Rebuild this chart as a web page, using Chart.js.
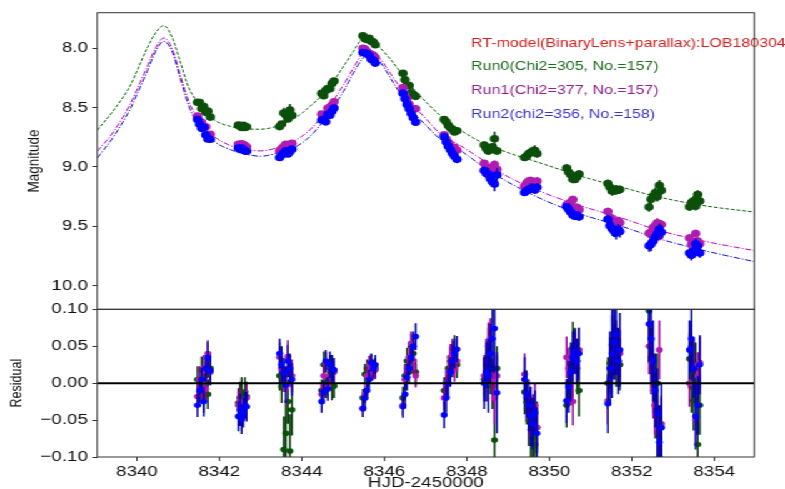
<!DOCTYPE html>
<html>
<head>
<meta charset="utf-8">
<script src="https://cdn.jsdelivr.net/npm/chart.js@4.4.1/dist/chart.umd.min.js"></script>
<style>
  html, body { margin: 0; padding: 0; background: #fff; overflow: hidden; }
  /* the reference picture is stretched sideways, so the whole drawing is too */
  #wrap { position: absolute; left: 0; top: 0; width: 628px; height: 489px; transform: scaleX(1.25); transform-origin: 0 0; }
  #magChart { position: absolute; left: 0; top: 0; }
  #resChart { position: absolute; left: 0; top: 300px; }
</style>
</head>
<body>
<div id="wrap">
  <canvas id="magChart" width="628" height="310" style="width:628px;height:310px"></canvas>
  <canvas id="resChart" width="628" height="189" style="width:628px;height:189px"></canvas>
</div>
<script>
// ---- data ----
const xTicks = [8340, 8342, 8344, 8346, 8348, 8350, 8352, 8354];
const magTicks = [8.0, 8.5, 9.0, 9.5, 10.0];
const resTicks = [0.10, 0.05, 0.00, -0.05, -0.10];

const legendLines = [
  "RT-model(BinaryLens+parallax):LOB180304",
  "Run0(Chi2=305, No.=157)",
  "Run1(Chi2=377, No.=157)",
  "Run2(chi2=356, No.=158)"
];

// model curves
const modelTime = [8339.04, 8339.44, 8339.85, 8340.05, 8340.25, 8340.45, 8340.65, 8340.86, 8341.06, 8341.26,
  8341.46, 8341.87, 8342.27, 8342.67, 8343.00, 8343.39, 8343.80, 8344.20, 8344.61, 8345.01,
  8345.25, 8345.45, 8345.58, 8345.88, 8346.22, 8346.62, 8347.03, 8347.40, 8347.84, 8348.40,
  8348.96, 8349.81, 8350.78, 8351.75, 8352.61, 8353.82, 8354.97];
const model0Mag = [8.69, 8.52, 8.307, 8.152, 7.998, 7.871, 7.809, 7.913, 8.124, 8.335,
  8.447, 8.602, 8.658, 8.68, 8.682, 8.657, 8.596, 8.489, 8.349, 8.152,
  8.025, 7.922, 7.905, 7.99, 8.124, 8.307, 8.46, 8.58, 8.689, 8.80,
  8.875, 8.97, 9.08, 9.17, 9.25, 9.33, 9.38];
const model1Mag = [8.868, 8.70, 8.461, 8.31, 8.152, 8.0, 7.913, 8.006, 8.236, 8.447,
  8.587, 8.742, 8.82, 8.855, 8.865, 8.84, 8.784, 8.686, 8.517, 8.307,
  8.166, 8.054, 8.017, 8.082, 8.25, 8.447, 8.602, 8.735, 8.82, 8.945,
  9.075, 9.21, 9.33, 9.43, 9.53, 9.63, 9.705];
const model2Mag = [8.925, 8.742, 8.503, 8.35, 8.194, 8.03, 7.941, 8.034, 8.264, 8.489,
  8.630, 8.784, 8.855, 8.895, 8.91, 8.885, 8.84, 8.742, 8.573, 8.362,
  8.208, 8.096, 8.054, 8.110, 8.292, 8.503, 8.657, 8.778, 8.86, 9.00,
  9.12, 9.27, 9.40, 9.50, 9.60, 9.71, 9.798];

// observation times, one night per line
const obsTime = [
  8341.47, 8341.52, 8341.57, 8341.62, 8341.67, 8341.72, 8341.78,
  8342.46, 8342.50, 8342.54, 8342.58, 8342.62, 8342.66,
  8343.46, 8343.51, 8343.56, 8343.61, 8343.66, 8343.71, 8343.76,
  8344.48, 8344.53, 8344.58, 8344.63, 8344.68, 8344.73, 8344.78,
  8345.48, 8345.53, 8345.58, 8345.63, 8345.68, 8345.73, 8345.78,
  8346.45, 8346.50, 8346.55, 8346.60, 8346.65, 8346.70, 8346.76,
  8347.45, 8347.50, 8347.55, 8347.60, 8347.65, 8347.70, 8347.76,
  8348.42, 8348.47, 8348.52, 8348.57, 8348.62, 8348.67, 8348.73,
  8349.40, 8349.45, 8349.50, 8349.55, 8349.60, 8349.65, 8349.70,
  8350.42, 8350.47, 8350.52, 8350.57, 8350.62, 8350.67, 8350.72,
  8351.42, 8351.47, 8351.52, 8351.57, 8351.62, 8351.67, 8351.71,
  8352.42, 8352.47, 8352.52, 8352.57, 8352.62, 8352.67, 8352.72,
  8353.40, 8353.45, 8353.50, 8353.55, 8353.60, 8353.65
];

// Run0 (green)
const run0Mag = [
  8.455, 8.458, 8.508, 8.49, 8.54, 8.53, 8.58,
  8.648, 8.657, 8.668, 8.65, 8.668, 8.662,
  8.66, 8.638, 8.546, 8.56, 8.595, 8.52, 8.564,
  8.38, 8.40, 8.355, 8.34, 8.34, 8.297, 8.276,
  7.895, 7.919, 7.925, 7.915, 7.94, 7.948, 7.97,
  8.21, 8.265, 8.31, 8.315, 8.375, 8.395, 8.405,
  8.60, 8.62, 8.65, 8.67, 8.685, 8.705, 8.695,
  8.815, 8.845, 8.865, 8.845, 8.83, 8.763, 8.865,
  8.92, 8.909, 8.887, 8.877, 8.868, 8.862, 8.888,
  9.01, 9.045, 9.065, 9.103, 9.105, 9.085, 9.06,
  9.14, 9.172, 9.202, 9.20, 9.195, 9.193, 9.191,
  9.338, 9.273, 9.246, 9.219, 9.252, 9.155, 9.198,
  9.336, 9.301, 9.285, 9.332, 9.232, 9.288
];
const run0Res = [
  0.005, -0.012, 0.018, -0.02, 0.01, -0.015, 0.02,
  -0.027, -0.02, -0.012, -0.03, -0.012, -0.018,
  0.01, -0.005, -0.09, -0.068, -0.025, -0.092, -0.036,
  -0.01, 0.025, -0.005, 0.0, 0.02, -0.003, -0.004,
  -0.02, 0.012, 0.02, 0.008, 0.025, 0.018, 0.02,
  -0.02, 0.01, 0.03, 0.015, 0.05, 0.04, 0.015,
  -0.01, 0.0, 0.02, 0.03, 0.035, 0.045, 0.025,
  0.005, 0.025, 0.04, 0.015, -0.005, -0.077, 0.02,
  -0.012, -0.026, -0.05, -0.063, -0.074, -0.083, -0.06,
  -0.03, 0.0, 0.015, 0.048, 0.045, 0.02, -0.01,
  0.0, 0.027, 0.052, 0.045, 0.035, 0.03, 0.025,
  0.098, 0.03, 0.0, -0.03, 0.0, -0.1, -0.06,
  0.033, -0.005, -0.024, 0.02, -0.083, -0.03
];
const run0Err = [
  0.018, 0.02, 0.018, 0.02, 0.018, 0.02, 0.02,
  0.02, 0.022, 0.02, 0.018, 0.02, 0.02,
  0.02, 0.022, 0.045, 0.04, 0.03, 0.05, 0.035,
  0.015, 0.018, 0.015, 0.016, 0.018, 0.02, 0.016,
  0.012, 0.014, 0.012, 0.013, 0.014, 0.012, 0.014,
  0.015, 0.016, 0.018, 0.015, 0.017, 0.02, 0.018,
  0.018, 0.02, 0.018, 0.02, 0.022, 0.02, 0.018,
  0.03, 0.032, 0.035, 0.03, 0.03, 0.06, 0.03,
  0.03, 0.03, 0.035, 0.04, 0.04, 0.045, 0.035,
  0.03, 0.03, 0.032, 0.035, 0.03, 0.035, 0.035,
  0.035, 0.035, 0.04, 0.035, 0.04, 0.035, 0.035,
  0.04, 0.045, 0.04, 0.045, 0.04, 0.045, 0.04,
  0.035, 0.035, 0.04, 0.035, 0.035, 0.04
];

// Run1 (magenta)
const run1Mag = [
  8.572, 8.615, 8.624, 8.67, 8.662, 8.73, 8.725,
  8.81, 8.817, 8.805, 8.812, 8.82, 8.83,
  8.865, 8.845, 8.828, 8.81, 8.841, 8.815, 8.80,
  8.555, 8.56, 8.558, 8.505, 8.495, 8.48, 8.45,
  8.0, 8.007, 8.027, 8.045, 8.05, 8.06, 8.078,
  8.33, 8.39, 8.43, 8.472, 8.514, 8.51, 8.51,
  8.73, 8.765, 8.795, 8.825, 8.84, 8.835, 8.86,
  8.97, 9.0, 9.03, 9.05, 8.998, 8.98, 9.02,
  9.162, 9.135, 9.12, 9.115, 9.125, 9.145, 9.12,
  9.32, 9.31, 9.295, 9.275, 9.345, 9.34, 9.36,
  9.376, 9.425, 9.445, 9.46, 9.47, 9.455, 9.47,
  9.56, 9.55, 9.51, 9.495, 9.47, 9.58, 9.485,
  9.60, 9.655, 9.635, 9.562, 9.625, 9.648
];
const run1Res = [
  -0.018, 0.005, -0.006, 0.02, -0.008, 0.04, 0.015,
  -0.03, -0.025, -0.04, -0.035, -0.03, -0.02,
  0.035, 0.02, 0.008, -0.005, 0.036, 0.015, 0.01,
  -0.015, 0.01, 0.028, -0.005, 0.01, 0.02, 0.015,
  -0.035, -0.015, 0.01, 0.025, 0.02, 0.015, 0.018,
  -0.03, 0.005, 0.02, 0.035, 0.054, 0.03, 0.01,
  -0.02, 0.0, 0.015, 0.035, 0.04, 0.02, 0.03,
  0.01, 0.03, 0.05, 0.06, 0.003, -0.02, 0.01,
  0.012, -0.02, -0.04, -0.05, -0.045, -0.03, -0.06,
  0.035, 0.02, 0.0, -0.025, 0.04, 0.03, 0.045,
  -0.024, 0.02, 0.035, 0.045, 0.05, 0.03, 0.04,
  0.05, 0.035, -0.01, -0.03, -0.06, 0.045, -0.055,
  0.0, 0.05, 0.025, -0.05, 0.01, 0.028
];
const run1Err = [
  0.016, 0.018, 0.016, 0.018, 0.016, 0.018, 0.018,
  0.018, 0.02, 0.018, 0.016, 0.018, 0.018,
  0.02, 0.022, 0.02, 0.025, 0.022, 0.02, 0.022,
  0.014, 0.016, 0.014, 0.015, 0.016, 0.018, 0.015,
  0.011, 0.012, 0.011, 0.012, 0.013, 0.011, 0.012,
  0.014, 0.015, 0.016, 0.014, 0.016, 0.018, 0.016,
  0.016, 0.018, 0.016, 0.018, 0.02, 0.018, 0.016,
  0.028, 0.03, 0.032, 0.028, 0.03, 0.035, 0.028,
  0.028, 0.028, 0.03, 0.032, 0.03, 0.03, 0.03,
  0.028, 0.028, 0.03, 0.032, 0.028, 0.03, 0.03,
  0.032, 0.035, 0.035, 0.032, 0.035, 0.032, 0.032,
  0.038, 0.04, 0.038, 0.04, 0.038, 0.04, 0.038,
  0.032, 0.032, 0.035, 0.032, 0.032, 0.035
];

// Run2 (blue)
const run2Mag = [
  8.60, 8.64, 8.675, 8.665, 8.73, 8.764, 8.767,
  8.84, 8.852, 8.841, 8.853, 8.866, 8.868,
  8.92, 8.90, 8.884, 8.863, 8.89, 8.872, 8.85,
  8.605, 8.598, 8.62, 8.557, 8.565, 8.53, 8.503,
  8.036, 8.04, 8.044, 8.061, 8.093, 8.10, 8.125,
  8.378, 8.425, 8.473, 8.51, 8.55, 8.585, 8.623,
  8.747, 8.79, 8.825, 8.855, 8.885, 8.91, 8.936,
  9.03, 9.055, 9.06, 9.10, 9.125, 9.144, 9.067,
  9.215, 9.20, 9.19, 9.18, 9.175, 9.195, 9.172,
  9.336, 9.358, 9.381, 9.405, 9.416, 9.406, 9.42,
  9.442, 9.495, 9.52, 9.54, 9.556, 9.525, 9.545,
  9.665, 9.65, 9.625, 9.59, 9.563, 9.526, 9.55,
  9.725, 9.744, 9.708, 9.647, 9.666, 9.725
];
const run2Res = [
  -0.03, -0.01, 0.005, -0.025, 0.02, 0.034, 0.017,
  -0.045, -0.036, -0.049, -0.04, -0.03, -0.032,
  0.04, 0.025, 0.014, -0.002, 0.03, 0.02, 0.005,
  -0.025, -0.012, 0.03, -0.008, 0.025, 0.02, 0.018,
  -0.034, -0.02, -0.01, 0.005, 0.028, 0.02, 0.025,
  -0.032, -0.015, 0.008, 0.02, 0.035, 0.05, 0.063,
  -0.043, -0.02, 0.0, 0.015, 0.03, 0.04, 0.046,
  0.0, 0.015, 0.01, 0.04, 0.06, 0.074, -0.013,
  0.005, -0.015, -0.03, -0.045, -0.055, -0.04, -0.068,
  -0.024, -0.005, 0.015, 0.035, 0.043, 0.03, 0.04,
  -0.028, 0.02, 0.04, 0.055, 0.066, 0.03, 0.045,
  0.08, 0.06, 0.03, -0.01, -0.04, -0.08, -0.06,
  0.045, 0.06, 0.02, -0.045, -0.03, 0.025
];
const run2Err = [
  0.016, 0.018, 0.016, 0.02, 0.018, 0.022, 0.02,
  0.02, 0.022, 0.02, 0.02, 0.018, 0.02,
  0.02, 0.025, 0.02, 0.025, 0.022, 0.02, 0.022,
  0.015, 0.016, 0.015, 0.016, 0.018, 0.018, 0.016,
  0.012, 0.013, 0.012, 0.013, 0.012, 0.012, 0.013,
  0.015, 0.016, 0.018, 0.016, 0.018, 0.02, 0.018,
  0.018, 0.02, 0.02, 0.02, 0.022, 0.02, 0.018,
  0.035, 0.04, 0.05, 0.04, 0.045, 0.06, 0.055,
  0.03, 0.032, 0.035, 0.04, 0.035, 0.03, 0.035,
  0.03, 0.035, 0.04, 0.035, 0.03, 0.03, 0.035,
  0.04, 0.05, 0.06, 0.05, 0.055, 0.045, 0.05,
  0.05, 0.06, 0.055, 0.05, 0.06, 0.05, 0.06,
  0.04, 0.045, 0.04, 0.045, 0.04, 0.04
];

// ---- drawing ----
const FONT = "'Liberation Sans', Arial, sans-serif";
Chart.defaults.font.family = FONT;
Chart.defaults.color = '#111';

const C = {
  g: '#0b4f0b', gLine: '#006400', gBar: '#053a05',
  m: '#b01cb0', mLine: '#c000c0', mBar: '#9a009a',
  b: '#0000ff', bLine: '#1010d0', bBar: '#0000b0'
};
const legendColors = ['#d42020', '#1d6b1d', '#8e1f8e', '#3535c8'];

const X_MIN = 8339.04, X_MAX = 8354.97;
const LEFT_W = 77.8;     // logical px of the y-axis box
const RIGHT_PAD = 24.6;

function pts(t, v) { return t.map((x, i) => ({ x: x, y: v[i] })); }

const errorBars = {
  id: 'errorBars',
  beforeDatasetDraw(chart, args) {
    const ds = chart.data.datasets[args.index];
    if (!ds.errs) return;
    const { ctx, chartArea: a, scales: { x, y } } = chart;
    ctx.save();
    ctx.beginPath();
    ctx.rect(a.left, a.top, a.right - a.left, a.bottom - a.top);
    ctx.clip();
    ctx.strokeStyle = ds.barColor;
    ctx.lineWidth = 1.5;
    ctx.beginPath();
    ds.data.forEach((p, i) => {
      const px = x.getPixelForValue(p.x);
      ctx.moveTo(px, y.getPixelForValue(p.y - ds.errs[i]));
      ctx.lineTo(px, y.getPixelForValue(p.y + ds.errs[i]));
    });
    ctx.stroke();
    ctx.restore();
  }
};

const frame = {
  id: 'frame',
  afterDatasetsDraw(chart, args, opts) {
    const { ctx, chartArea: a } = chart;
    ctx.save();
    if (opts.zeroLine) {
      const y0 = chart.scales.y.getPixelForValue(0);
      ctx.strokeStyle = '#000';
      ctx.lineWidth = 2;
      ctx.beginPath();
      ctx.moveTo(a.left, y0);
      ctx.lineTo(a.right, y0);
      ctx.stroke();
    }
    if (opts.legend) {
      ctx.font = '12.8px ' + FONT;
      ctx.textBaseline = 'middle';
      ctx.textAlign = 'left';
      const ys = [43.3, 66.7, 90, 114];
      legendLines.forEach((s, i) => {
        ctx.fillStyle = legendColors[i];
        ctx.fillText(s, 376.8, ys[i]);
      });
    }
    ctx.restore();
  },
  afterDraw(chart) {
    const { ctx, chartArea: a } = chart;
    ctx.save();
    ctx.strokeStyle = '#333';
    ctx.lineWidth = 1;
    ctx.strokeRect(a.left, a.top, a.right - a.left, a.bottom - a.top);
    ctx.restore();
  }
};

function pointSet(t, v, errs, color, barColor, r, order) {
  return {
    type: 'scatter', data: pts(t, v), errs: errs, barColor: barColor,
    backgroundColor: color, borderColor: color, pointRadius: r, pointBorderWidth: 0,
    pointHoverRadius: r, order: order
  };
}
function modelSet(v, color, dash, order) {
  return {
    type: 'line', data: pts(modelTime, v), borderColor: color, borderWidth: 1,
    borderDash: dash, pointRadius: 0, cubicInterpolationMode: 'monotone', fill: false, order: order
  };
}

// keep the y boxes at a fixed width and stop Chart.js from adding label padding
function fixY(s) { s.width = LEFT_W; s.paddingTop = 0; s.paddingBottom = 0; }

const yTickStyle = {
  grid: { display: true, drawOnChartArea: false, tickLength: 4, color: '#333' },
  border: { display: false }
};

new Chart(document.getElementById('magChart'), {
  type: 'scatter',
  data: {
    datasets: [
      pointSet(obsTime, run2Mag, run2Err, C.b, C.bBar, 3.8, 0),
      pointSet(obsTime, run1Mag, run1Err, C.m, C.mBar, 3.8, 1),
      pointSet(obsTime, run0Mag, run0Err, C.g, C.gBar, 3.8, 2),
      modelSet(model2Mag, C.bLine, [5, 1.6, 1.2, 1.6], 3),
      modelSet(model1Mag, C.mLine, [5, 1.6, 1.2, 1.6], 4),
      modelSet(model0Mag, C.gLine, [3, 1.6], 5)
    ]
  },
  options: {
    responsive: false, animation: false, events: [], devicePixelRatio: 1,
    layout: { autoPadding: false, padding: { left: 0, right: RIGHT_PAD, top: 12.7, bottom: 0.7 } },
    plugins: { legend: { display: false }, tooltip: { enabled: false }, frame: { legend: true } },
    scales: {
      x: { type: 'linear', min: X_MIN, max: X_MAX, display: false },
      y: Object.assign({
        type: 'linear', reverse: true, min: 7.7, max: 10.2,
        afterBuildTicks: s => { s.ticks = magTicks.map(v => ({ value: v })); },
        afterFit: fixY,
        ticks: { padding: 3.5, font: { size: 15 }, color: '#111', callback: v => v.toFixed(1) },
        title: { display: true, text: 'Magnitude', color: '#111', font: { size: 13.5, lineHeight: 1 }, padding: { top: 21, bottom: 0 } }
      }, yTickStyle)
    }
  },
  plugins: [errorBars, frame]
});

new Chart(document.getElementById('resChart'), {
  type: 'scatter',
  data: {
    datasets: [
      pointSet(obsTime, run2Res, run2Err, C.b, C.bBar, 2.8, 0),
      pointSet(obsTime, run1Res, run1Err, C.m, C.mBar, 2.8, 1),
      pointSet(obsTime, run0Res, run0Err, C.g, C.gBar, 2.8, 2)
    ]
  },
  options: {
    responsive: false, animation: false, events: [], devicePixelRatio: 1,
    layout: { autoPadding: false, padding: { left: 0, right: RIGHT_PAD, top: 9.3, bottom: 0 } },
    plugins: { legend: { display: false }, tooltip: { enabled: false }, frame: { zeroLine: true } },
    scales: {
      x: {
        type: 'linear', min: X_MIN, max: X_MAX,
        afterBuildTicks: s => { s.ticks = xTicks.map(v => ({ value: v })); },
        afterFit: s => { s.height = 32; s.paddingLeft = 0; s.paddingRight = 0; },
        grid: { display: true, drawOnChartArea: false, tickLength: 4, color: '#333' },
        border: { display: false },
        ticks: { padding: 1.5, font: { size: 15 }, color: '#111', maxRotation: 0, callback: v => String(v) },
        title: { display: true, text: 'HJD-2450000', color: '#111', font: { size: 15, lineHeight: 1 }, padding: { top: 0, bottom: -1.5 } }
      },
      y: Object.assign({
        type: 'linear', min: -0.1, max: 0.1,
        afterBuildTicks: s => { s.ticks = resTicks.map(v => ({ value: v })); },
        afterFit: fixY,
        ticks: { padding: 3.5, font: { size: 15 }, color: '#111',
          callback: v => (v < -1e-9 ? '\u2212' : '') + Math.abs(v).toFixed(2) },
        title: { display: true, text: 'Residual', color: '#111', font: { size: 12.5, lineHeight: 1 }, padding: { top: 7.7, bottom: 0 } }
      }, yTickStyle)
    }
  },
  plugins: [errorBars, frame]
});
</script>
</body>
</html>
